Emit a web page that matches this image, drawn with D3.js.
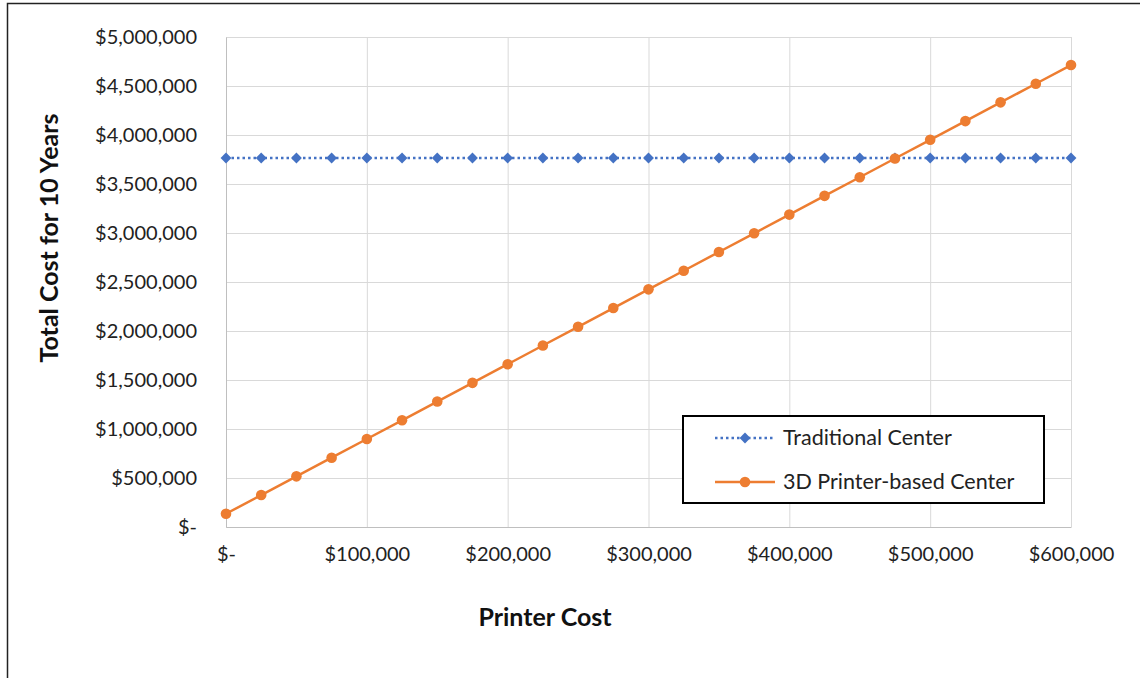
<!DOCTYPE html>
<html><head><meta charset="utf-8">
<script src="https://cdn.jsdelivr.net/npm/d3@7"></script>
<style>
html,body{margin:0;padding:0;background:#fff;}
svg{display:block;font-family:Lato,"Open Sans",sans-serif;}
</style></head>
<body>
<svg id="c" width="1140" height="678"></svg>
<script>
const printerCost = [0,25000,50000,75000,100000,125000,150000,175000,200000,225000,250000,275000,300000,325000,350000,375000,400000,425000,450000,475000,500000,525000,550000,575000,600000];
const traditional = [3765000,3765000,3765000,3765000,3765000,3765000,3765000,3765000,3765000,3765000,3765000,3765000,3765000,3765000,3765000,3765000,3765000,3765000,3765000,3765000,3765000,3765000,3765000,3765000,3765000];
const printerBased = [135000,326000,517000,707000,898000,1089000,1280000,1471000,1661000,1852000,2043000,2234000,2425000,2615000,2806000,2997000,3188000,3379000,3569000,3760000,3951000,4142000,4333000,4523000,4714000];
const xTicks = [0,100000,200000,300000,400000,500000,600000];
const yTicks = [0,500000,1000000,1500000,2000000,2500000,3000000,3500000,4000000,4500000,5000000];
const seriesNames = ["Traditional Center","3D Printer-based Center"];
const xTitle = "Printer Cost";
const yTitle = "Total Cost for 10 Years";

const svg = d3.select("#c");
const blue = "#4472C4", orange = "#ED7D31", grid = "#d9d9d9";
const x = d3.scaleLinear().domain([0,600000]).range([226,1071]);
const y = d3.scaleLinear().domain([0,5000000]).range([527,37]);
const fmt = v => v === 0 ? "$-" : "$" + d3.format(",")(v);
const FONT = "Lato,'Open Sans',sans-serif";

// outer border (top + left)
svg.append("rect").attr("x",7.5).attr("y",3.5).attr("width",1200).attr("height",800)
  .attr("fill","none").attr("stroke","#222").attr("stroke-width",1.5);

// gridlines
svg.append("g").selectAll("line").data(yTicks).join("line")
  .attr("x1",x(0)).attr("x2",x(600000)).attr("y1",d=>y(d)+0.5).attr("y2",d=>y(d)+0.5)
  .attr("stroke",grid).attr("stroke-width",1);
svg.append("g").selectAll("line").data(xTicks).join("line")
  .attr("x1",d=>x(d)+0.5).attr("x2",d=>x(d)+0.5).attr("y1",y(0)).attr("y2",y(5000000))
  .attr("stroke",grid).attr("stroke-width",1);

// axes
const xAxis = svg.append("g").attr("transform",`translate(0,${y(0)})`)
  .call(d3.axisBottom(x).tickValues(xTicks).tickFormat(fmt).tickSize(0).tickPadding(20));
xAxis.select(".domain").attr("stroke","#bfbfbf");
xAxis.selectAll("text").attr("font-size",20).attr("fill","#222").attr("font-family",FONT);

const yAxis = svg.append("g").attr("transform",`translate(${x(0)},0)`)
  .call(d3.axisLeft(y).tickValues(yTicks).tickFormat(fmt).tickSize(0).tickPadding(29));
yAxis.select(".domain").attr("stroke","#bfbfbf");
yAxis.selectAll("text").attr("font-size",20).attr("fill","#222").attr("font-family",FONT);

// titles
svg.append("text").attr("x",545).attr("y",626).attr("text-anchor","middle")
  .attr("font-weight","bold").attr("font-size",25).attr("fill","#111").text(xTitle);
svg.append("text").attr("transform","translate(58,238) rotate(-90)").attr("text-anchor","middle")
  .attr("font-weight","bold").attr("font-size",25).attr("fill","#111").text(yTitle);

// series
const line = d3.line().x(d=>x(d[0])).y(d=>y(d[1]));
const tData = printerCost.map((c,i)=>[c,traditional[i]]);
const pData = printerCost.map((c,i)=>[c,printerBased[i]]);

svg.append("path").datum(tData).attr("d",line).attr("fill","none")
  .attr("stroke",blue).attr("stroke-width",2.5).attr("stroke-dasharray","2.5,3");
svg.append("path").datum(pData).attr("d",line).attr("fill","none")
  .attr("stroke",orange).attr("stroke-width",2.5);

const diamond = d3.symbol().type(d3.symbolDiamond2).size(75);
svg.append("g").selectAll("path").data(tData).join("path")
  .attr("transform",d=>`translate(${x(d[0])},${y(d[1])})`).attr("d",diamond).attr("fill",blue);
svg.append("g").selectAll("circle").data(pData).join("circle")
  .attr("cx",d=>x(d[0])).attr("cy",d=>y(d[1])).attr("r",5.3).attr("fill",orange);

// legend
const lg = svg.append("g");
lg.append("rect").attr("x",683).attr("y",416).attr("width",361).attr("height",87)
  .attr("fill","#fff").attr("stroke","#000").attr("stroke-width",2);
const ly = [438,482];
lg.append("line").attr("x1",715).attr("x2",775).attr("y1",ly[0]).attr("y2",ly[0])
  .attr("stroke",blue).attr("stroke-width",2.5).attr("stroke-dasharray","2.5,3");
lg.append("path").attr("transform",`translate(745,${ly[0]})`).attr("d",diamond).attr("fill",blue);
lg.append("line").attr("x1",715).attr("x2",775).attr("y1",ly[1]).attr("y2",ly[1])
  .attr("stroke",orange).attr("stroke-width",2.5);
lg.append("circle").attr("cx",745).attr("cy",ly[1]).attr("r",5.3).attr("fill",orange);
lg.selectAll("text.l").data(seriesNames).join("text").attr("class","l")
  .attr("x",783).attr("y",(d,i)=>ly[i]+7).attr("font-size",21.5).attr("fill","#222").text(d=>d);
</script>
</body></html>
